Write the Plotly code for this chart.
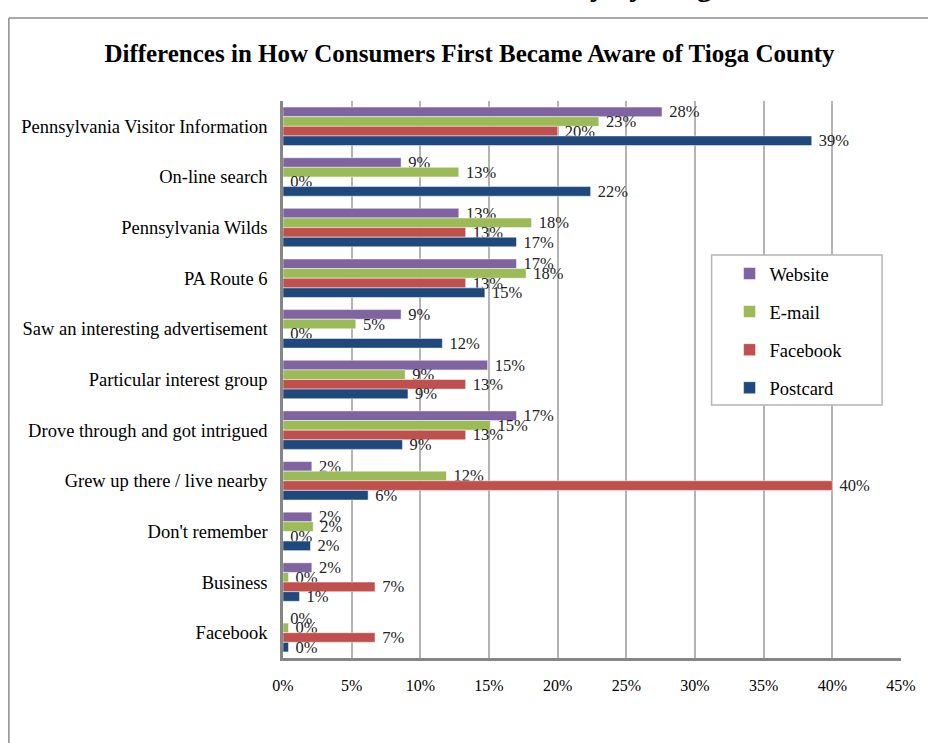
import plotly.graph_objects as go

categories = [
    "Pennsylvania Visitor Information",
    "On-line search",
    "Pennsylvania Wilds",
    "PA Route 6",
    "Saw an interesting advertisement",
    "Particular interest group",
    "Drove through and got intrigued",
    "Grew up there / live nearby",
    "Don't remember",
    "Business",
    "Facebook",
]

website = [0.276, 0.086, 0.128, 0.170, 0.086, 0.149, 0.170, 0.021, 0.021, 0.021, 0.0]
email = [0.230, 0.128, 0.181, 0.177, 0.053, 0.089, 0.151, 0.119, 0.022, 0.004, 0.004]
facebook = [0.200, 0.0, 0.133, 0.133, 0.0, 0.133, 0.133, 0.400, 0.0, 0.067, 0.067]
postcard = [0.385, 0.224, 0.170, 0.147, 0.116, 0.091, 0.087, 0.062, 0.020, 0.012, 0.004]

series = [
    ("Website", website, "#8064A2"),
    ("E-mail", email, "#9BBB59"),
    ("Facebook", facebook, "#C0504D"),
    ("Postcard", postcard, "#1F497D"),
]

x_ticks = [0, 0.05, 0.10, 0.15, 0.20, 0.25, 0.30, 0.35, 0.40, 0.45]
x_tick_labels = ["0%", "5%", "10%", "15%", "20%", "25%", "30%", "35%", "40%", "45%"]

FONT = "Liberation Serif, Times New Roman, serif"

fig = go.Figure()
for name, vals, color in series:
    fig.add_trace(go.Bar(
        name=name,
        y=categories,
        x=vals,
        orientation="h",
        marker=dict(color=color, line=dict(color="rgba(255,255,255,0.6)", width=0.8)),
        texttemplate=" %{x:.0%}",
        textposition="outside",
        constraintext="none",
        cliponaxis=False,
        textfont=dict(family=FONT, size=16.5, color="#222222"),
        legendgroup=name,
        hoverinfo="x+y+name",
    ))

W, H = 928, 743
ml, mr, mt, mb = 283, 25, 101, 85
ph = H - mt - mb
pw = W - ml - mr


def px_to_paper_x(px):
    return (px - ml) / pw


def px_to_paper_y(py):
    return (H - mb - py) / ph


fig.update_layout(
    width=W, height=H,
    margin=dict(l=ml, r=mr, t=mt, b=mb, pad=0),
    paper_bgcolor="white",
    plot_bgcolor="white",
    barmode="group",
    bargap=0.24,
    bargroupgap=0.0,
    font=dict(family=FONT, size=16, color="#000000"),
    title=dict(
        text="<b>Differences in How Consumers First Became Aware of Tioga County</b>",
        x=469.5 / W, xanchor="center",
        y=1 - 53 / H, yanchor="middle",
        font=dict(family=FONT, size=25, color="#000000"),
    ),
    xaxis=dict(
        range=[0, 0.45],
        tickvals=x_ticks,
        ticktext=x_tick_labels,
        showgrid=True,
        gridcolor="#b4b4b4",
        gridwidth=1.5,
        showline=True,
        linecolor="#868686",
        linewidth=2.5,
        ticks="",
        ticklabelstandoff=11,
        tickfont=dict(family=FONT, size=16),
        zeroline=False,
    ),
    yaxis=dict(
        autorange="reversed",
        showline=True,
        linecolor="#868686",
        linewidth=2.5,
        ticks="",
        ticklabelstandoff=9,
        tickfont=dict(family=FONT, size=18.5),
        showgrid=False,
    ),
    legend=dict(
        x=px_to_paper_x(731),
        y=px_to_paper_y(255),
        xanchor="left", yanchor="top",
        bgcolor="rgba(0,0,0,0)",
        borderwidth=0,
        traceorder="grouped",
        tracegroupgap=11,
        font=dict(family=FONT, size=18.5),
        itemwidth=30,
    ),
    showlegend=True,
)

# legend frame
fig.add_shape(type="rect", xref="paper", yref="paper", layer="above",
              x0=px_to_paper_x(713), x1=px_to_paper_x(884),
              y0=px_to_paper_y(255), y1=px_to_paper_y(405),
              fillcolor="white", line=dict(color="#b4b4b4", width=1.5))

# outer frame lines (chart border)
fig.add_shape(type="line", xref="paper", yref="paper",
              x0=px_to_paper_x(8), x1=px_to_paper_x(W + 5),
              y0=px_to_paper_y(18), y1=px_to_paper_y(18),
              line=dict(color="#8c8c8c", width=1.5))
fig.add_shape(type="line", xref="paper", yref="paper",
              x0=px_to_paper_x(8), x1=px_to_paper_x(8),
              y0=px_to_paper_y(18), y1=px_to_paper_y(H + 5),
              line=dict(color="#8c8c8c", width=1.5))

# clipped heading from the page above
fig.add_annotation(
    text="<b>County by Origin</b>",
    xref="paper", yref="paper",
    x=px_to_paper_x(740), xanchor="right",
    y=px_to_paper_y(4), yanchor="bottom",
    showarrow=False,
    font=dict(family=FONT, size=30, color="#000000"),
)

fig.write_html("out.html", config={"displayModeBar": False},
               post_script="document.body.style.margin='0px';")
